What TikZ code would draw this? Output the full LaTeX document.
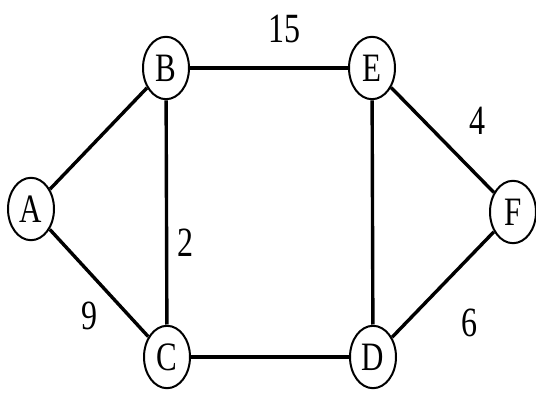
\documentclass[tikz,border=0pt]{standalone}
\usepackage{fontspec}
\setmainfont{Liberation Serif}
\usetikzlibrary{shapes.geometric}

\begin{document}
\begin{tikzpicture}[
    x=0.5pt, y=-0.5pt,
    vertex/.style={draw, ellipse, line width=1pt, fill=white, minimum width=23pt, minimum height=24pt, inner sep=0pt, font=\fontsize{15.5}{18}\selectfont, yscale=1.3, transform shape},
    weight/.style={inner sep=0pt, font=\fontsize{16}{19}\selectfont, yscale=1.3, transform shape},
    edge/.style={line width=1.7pt}
]
\useasboundingbox (0,0) rectangle (536,405);

% Vertices
\node[vertex] (A) at (31,209) {A};
\node[vertex] (B) at (166,68) {B};
\node[vertex] (E) at (372,68) {E};
\node[vertex] (F) at (513,212) {F};
\node[vertex] (C) at (167,357) {C};
\node[vertex] (D) at (373,357) {D};

% Edges
\draw[edge] (A) -- (B);
\draw[edge] (A) -- (C);
\draw[edge] (B) -- (E);
\draw[edge] (B) -- (C);
\draw[edge] (E) -- (D);
\draw[edge] (E) -- (F);
\draw[edge] (C) -- (D);
\draw[edge] (D) -- (F);

% Weights
\node[weight] (wBE) at (284,29) {15};
\node[weight] (wEF) at (477,121) {4};
\node[weight] (wBC) at (185,243) {2};
\node[weight] (wAC) at (89,316) {9};
\node[weight] (wDF) at (469,323) {6};

\end{tikzpicture}
\end{document}
